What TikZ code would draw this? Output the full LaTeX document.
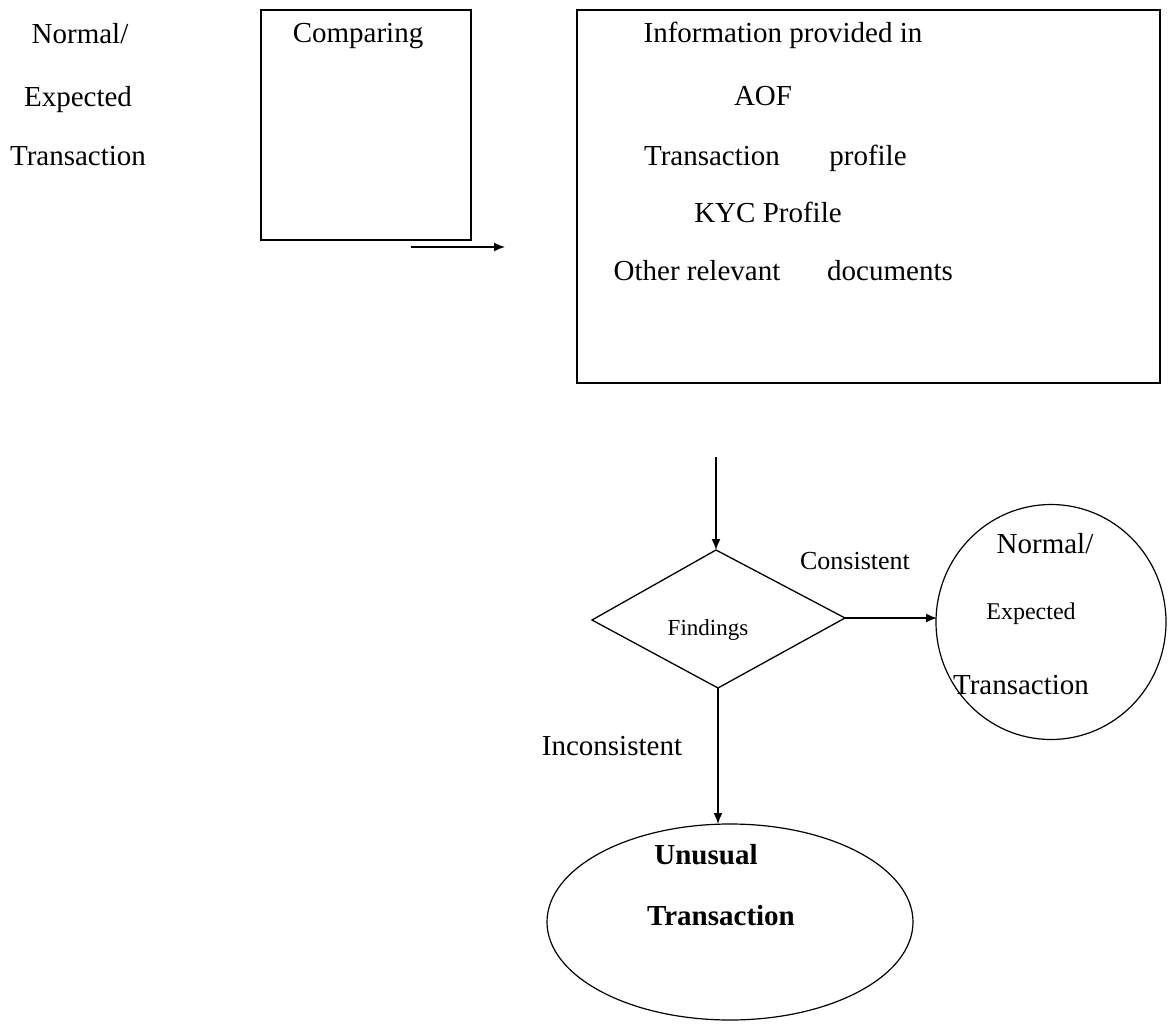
\documentclass[tikz,border=0pt]{standalone}
\usepackage{fontspec}
\setmainfont{Liberation Serif}
\usetikzlibrary{shapes.geometric,arrows.meta}
\begin{document}
\begin{tikzpicture}[x=1pt,y=-1pt,
  lbl/.style={inner sep=0pt,text height=20pt,text depth=6pt,font=\fontsize{29}{34}\selectfont},
  small/.style={inner sep=0pt,text height=16pt,text depth=5pt,font=\fontsize{23}{27}\selectfont},
  bold/.style={inner sep=0pt,text height=20pt,text depth=6pt,font=\fontsize{29}{34}\selectfont\bfseries},
  box/.style={draw,line width=1.5pt,inner sep=0pt},
  conn/.style={line width=1.5pt,-{Latex[length=11pt,width=9pt]}}]
\useasboundingbox (0,0) rectangle (1170,1028);
% left text
\node[lbl] (n1) at (80,36) {Normal/};
\node[lbl] (n2) at (78,99) {Expected};
\node[lbl] (n3) at (78,158) {Transaction};
% comparing box
\node[box,minimum width=210pt,minimum height=230pt] (cmp) at (366,125) {};
\node[lbl] (cmpt) at (358,35) {Comparing};
\coordinate (a1) at (411,247);
\coordinate (a2) at (505,247);
\draw[conn] (a1) -- (a2);
% info box
\node[box,minimum width=583pt,minimum height=373pt] (info) at (868.5,196.5) {};
\node[lbl] (i1) at (783,35) {Information provided in};
\node[lbl] (i2) at (763,98) {AOF};
\node[lbl] (i3a) at (712,158) {Transaction};
\node[lbl] (i3b) at (868,158) {profile};
\node[lbl] (i4) at (768,215) {KYC Profile};
\node[lbl] (i5a) at (697,273) {Other relevant};
\node[lbl] (i5b) at (890,273) {documents};
% diamond
\coordinate (dT) at (716,550);
\coordinate (dL) at (592,620);
\coordinate (dR) at (845,618);
\coordinate (dB) at (718,688);
\draw[line width=1.3pt] (dT) -- (dR) -- (dB) -- (dL) -- cycle;
\node[small] (find) at (708,630) {Findings};
\coordinate (s1) at (716,457);
\draw[conn] (s1) -- (dT);
% circle
\node[draw,ellipse,line width=1.2pt,minimum width=230pt,minimum height=235pt,inner sep=0pt] (circ) at (1051,622) {};
\node[lbl] (c1) at (1045,546) {Normal/};
\node[small,font=\fontsize{24}{28}\selectfont] (c2) at (1031,614) {Expected};
\node[lbl] (c3) at (1021,687) {Transaction};
\coordinate (cW) at (937,618);
\draw[conn] (dR) -- (cW);
\node[small,font=\fontsize{26}{30}\selectfont] (cons) at (855,564) {Consistent};
% unusual ellipse
\node[draw,ellipse,line width=1.2pt,minimum width=366pt,minimum height=196pt,inner sep=0pt] (unu) at (730,922) {};
\node[bold] (u1) at (706,857) {Unusual};
\node[bold] (u2) at (721,918) {Transaction};
\coordinate (uT) at (718,824);
\draw[conn] (dB) -- (uT);
\node[lbl] (inc) at (612,748) {Inconsistent};
\end{tikzpicture}
\end{document}
